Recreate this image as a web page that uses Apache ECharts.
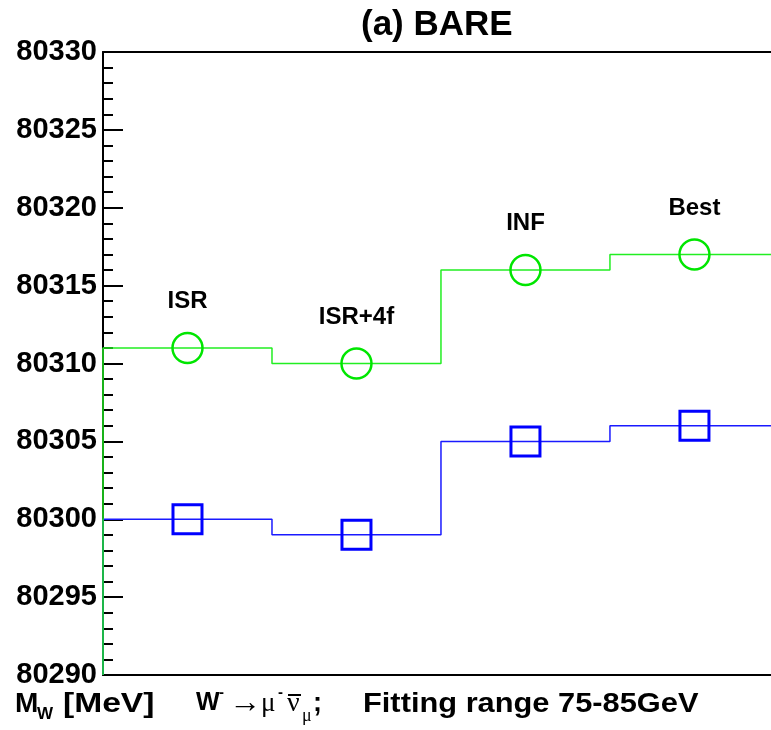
<!DOCTYPE html>
<html>
<head>
<meta charset="utf-8">
<script src="https://cdn.jsdelivr.net/npm/echarts@6/dist/echarts.min.js"></script>
<style>
  html, body { margin: 0; padding: 0; background: #fff; }
  #chart-container { width: 771px; height: 730px; }
</style>
</head>
<body>
<div id="chart-container"></div>
<script>
// fit categories, one bin each
const categories = ['ISR', 'ISR+4f', 'INF', 'Best'];
const binEdges = [0, 1, 2, 3, 4];
// M_W values in MeV
const upperValues = [80311, 80310, 80316, 80317]; // green circles
const lowerValues = [80300, 80299, 80305, 80306]; // blue squares
const yMin = 80290;
const yMax = 80330;
const yStep = 5;
// the original picture is cropped a little before the last bin edge
const xViewMax = 3.953;

const dom = document.getElementById('chart-container');
const myChart = echarts.init(dom, null, { renderer: 'canvas' });

const SANS = 'Liberation Sans, Arial, sans-serif';
const SERIF = 'Liberation Serif, Times New Roman, serif';

// histogram outline, drawn up from the axis floor like ROOT does
const stepData = (vals) => [[binEdges[0], yMin]].concat(vals.map((v, i) => [binEdges[i + 1], v]));
const centerData = (vals) => vals.map((v, i) => [(binEdges[i] + binEdges[i + 1]) / 2, v]);

const txt = (x, y, text, font, extra) =>
  Object.assign({ type: 'text', x: x, y: y, style: { text: text, font: font, fill: '#000' } }, extra || {});

const option = {
  animation: false,
  title: {
    text: '(a) BARE',
    left: 356,
    top: 3,
    textStyle: { fontFamily: SANS, fontWeight: 'bold', fontSize: 35, color: '#000' },
  },
  grid: {
    left: 103,
    right: 0,
    top: 52,
    bottom: 55,
    show: false,
  },
  xAxis: [
    {
      type: 'value',
      position: 'bottom',
      min: binEdges[0],
      max: xViewMax,
      axisLine: { show: true, onZero: false, lineStyle: { color: '#000', width: 2 } },
      axisTick: { show: false },
      axisLabel: { show: false },
      splitLine: { show: false },
    },
    {
      type: 'value',
      position: 'top',
      min: binEdges[0],
      max: xViewMax,
      axisLine: { show: true, onZero: false, lineStyle: { color: '#000', width: 2 } },
      axisTick: { show: false },
      axisLabel: { show: false },
      splitLine: { show: false },
    },
  ],
  yAxis: {
    type: 'value',
    min: yMin,
    max: yMax,
    interval: yStep,
    axisLine: { show: true, lineStyle: { color: '#000', width: 2 } },
    axisTick: { show: true, inside: true, length: 20, lineStyle: { color: '#000', width: 2 } },
    minorTick: { show: true, splitNumber: 5, length: 10, lineStyle: { color: '#000', width: 2 } },
    splitLine: { show: false },
    axisLabel: {
      margin: 6,
      formatter: (v) => String(v),
      fontFamily: SANS,
      fontWeight: 'bold',
      fontSize: 29,
      color: '#000',
    },
  },
  series: [
    {
      type: 'line',
      step: 'start',
      data: stepData(upperValues),
      showSymbol: false,
      lineStyle: { color: '#22ee22', width: 1.5 },
      z: 3,
    },
    {
      type: 'line',
      step: 'start',
      data: stepData(lowerValues),
      showSymbol: false,
      lineStyle: { color: '#1a1aff', width: 1.5 },
      z: 2,
    },
    {
      type: 'scatter',
      data: centerData(upperValues),
      symbol: 'circle',
      symbolSize: 30,
      itemStyle: { color: 'transparent', borderColor: '#00e600', borderWidth: 2.5, opacity: 1 },
      label: {
        show: true,
        position: 'top',
        distance: 18,
        formatter: (p) => categories[p.dataIndex],
        fontFamily: SANS,
        fontWeight: 'bold',
        fontSize: 24,
        color: '#000',
      },
      z: 4,
    },
    {
      type: 'scatter',
      data: centerData(lowerValues),
      symbol: 'rect',
      symbolSize: 29,
      itemStyle: { color: 'transparent', borderColor: '#0000ff', borderWidth: 3, opacity: 1 },
      z: 4,
    },
  ],
  graphic: [
    // y axis title  M_W [MeV]
    txt(15, 690, 'M', 'bold 28px ' + SANS),
    txt(37, 706, 'W', 'bold 17px ' + SANS),
    txt(63, 690, '[MeV]', 'bold 28px ' + SANS, { scaleX: 1.2 }),
    // W- -> mu- nubar_mu;  Fitting range 75-85GeV
    txt(196, 691, 'W', 'bold 25px ' + SANS),
    txt(219, 685, '-', 'bold 15px ' + SANS),
    txt(229, 688, '\u2192', '32px ' + SERIF),
    txt(261, 690, '\u03bc', '27px ' + SERIF),
    txt(278, 685, '-', 'bold 15px ' + SANS),
    txt(287, 690, '\u03bd', '28px ' + SERIF),
    { type: 'line', shape: { x1: 288, y1: 695, x2: 301, y2: 695 }, style: { stroke: '#000', lineWidth: 2 } },
    txt(302, 707, '\u03bc', '18px ' + SERIF),
    txt(313, 690, ';', 'bold 27px ' + SANS),
    txt(363, 690, 'Fitting range 75-85GeV', 'bold 28px ' + SANS, { scaleX: 1.1 }),
  ],
};

myChart.setOption(option);
window.addEventListener('resize', myChart.resize);
</script>
</body>
</html>
